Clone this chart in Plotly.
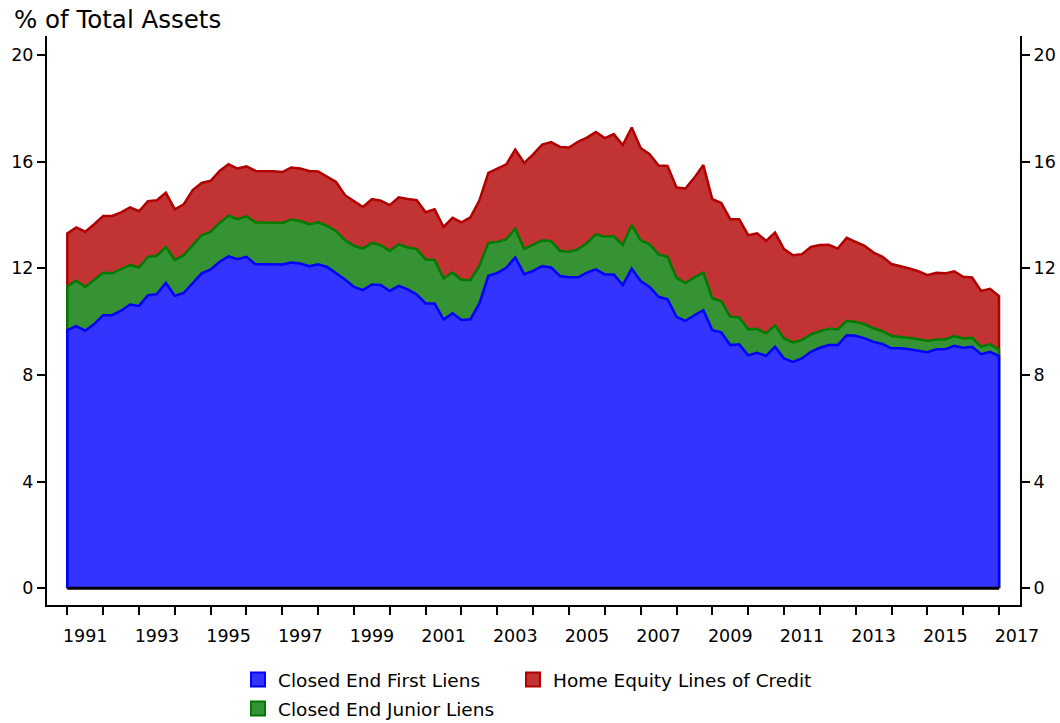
import plotly.graph_objects as go

# Quarterly observations, 1991Q1 .. 2017Q1
quarters = [f"{1991 + i // 4}Q{i % 4 + 1}" for i in range(105)]

first_liens = [
    9.68, 9.83, 9.66, 9.91, 10.24, 10.24, 10.41, 10.64, 10.59, 10.99, 11.03, 11.45, 10.97, 11.08, 11.43, 11.81,
    11.96, 12.24, 12.45, 12.34, 12.43, 12.15, 12.15, 12.14, 12.14, 12.22, 12.18, 12.08, 12.15, 12.05, 11.81, 11.58,
    11.30, 11.18, 11.39, 11.37, 11.15, 11.34, 11.21, 11.02, 10.68, 10.68, 10.08, 10.31, 10.06, 10.09, 10.68, 11.72,
    11.83, 12.02, 12.41, 11.78, 11.90, 12.08, 12.03, 11.71, 11.66, 11.66, 11.84, 11.96, 11.77, 11.77, 11.37, 11.99,
    11.52, 11.30, 10.93, 10.84, 10.18, 10.03, 10.24, 10.43, 9.68, 9.60, 9.12, 9.15, 8.74, 8.83, 8.72, 9.06,
    8.62, 8.49, 8.62, 8.87, 9.02, 9.12, 9.12, 9.49, 9.47, 9.37, 9.24, 9.16, 9.00, 9.00, 8.96, 8.91,
    8.85, 8.96, 8.96, 9.09, 9.02, 9.06, 8.78, 8.87, 8.71,
]
junior_liens = [
    1.65, 1.70, 1.64, 1.65, 1.59, 1.57, 1.55, 1.48, 1.44, 1.44, 1.44, 1.35, 1.34, 1.41, 1.44, 1.43,
    1.41, 1.46, 1.52, 1.50, 1.52, 1.57, 1.57, 1.56, 1.56, 1.61, 1.59, 1.57, 1.57, 1.54, 1.58, 1.47,
    1.54, 1.56, 1.56, 1.50, 1.50, 1.56, 1.57, 1.70, 1.65, 1.63, 1.54, 1.53, 1.50, 1.47, 1.41, 1.23,
    1.16, 1.06, 1.08, 0.94, 0.97, 0.97, 0.99, 0.94, 0.96, 1.05, 1.11, 1.31, 1.41, 1.43, 1.50, 1.63,
    1.53, 1.60, 1.59, 1.59, 1.46, 1.42, 1.42, 1.41, 1.19, 1.17, 1.06, 1.01, 0.97, 0.90, 0.84, 0.80,
    0.75, 0.73, 0.69, 0.65, 0.62, 0.61, 0.59, 0.54, 0.52, 0.53, 0.51, 0.48, 0.46, 0.43, 0.43, 0.43,
    0.42, 0.37, 0.37, 0.37, 0.35, 0.33, 0.28, 0.28, 0.25,
]
heloc = [
    1.98, 2.00, 2.07, 2.09, 2.13, 2.15, 2.14, 2.16, 2.11, 2.09, 2.08, 2.03, 1.90, 1.91, 2.06, 1.96,
    1.91, 1.95, 1.93, 1.90, 1.87, 1.93, 1.93, 1.94, 1.91, 1.95, 1.97, 2.00, 1.91, 1.84, 1.85, 1.69,
    1.68, 1.56, 1.64, 1.66, 1.72, 1.76, 1.82, 1.83, 1.77, 1.90, 1.93, 2.05, 2.16, 2.35, 2.46, 2.63,
    2.75, 2.82, 2.96, 3.23, 3.40, 3.59, 3.71, 3.90, 3.91, 4.03, 3.95, 3.84, 3.70, 3.83, 3.75, 3.66,
    3.46, 3.38, 3.33, 3.41, 3.39, 3.54, 3.74, 4.03, 3.72, 3.68, 3.66, 3.68, 3.53, 3.58, 3.47, 3.48,
    3.35, 3.27, 3.22, 3.28, 3.23, 3.15, 3.03, 3.11, 3.00, 2.94, 2.84, 2.79, 2.70, 2.65, 2.60, 2.55,
    2.47, 2.50, 2.48, 2.43, 2.31, 2.27, 2.09, 2.08, 2.00,
]

series_names = ["Closed End First Liens", "Closed End Junior Liens", "Home Equity Lines of Credit"]
fill_colors = ["#3434FF", "#359335", "#C23333"]
line_colors = ["#0000FF", "#007A00", "#B20000"]

year_labels = [str(y) for y in range(1991, 2018, 2)]
y_ticks = [0, 4, 8, 12, 16, 20]

FONT = "DejaVu Sans"

x = [int(q[:4]) + (int(q[-1]) - 1) / 4 for q in quarters]

# cumulative stack tops
top1 = list(first_liens)
top2 = [a + b for a, b in zip(top1, junior_liens)]
top3 = [a + b for a, b in zip(top2, heloc)]
tops = [top1, top2, top3]

fig = go.Figure()

# draw top layer first, each polygon from zero so edges look like the original
for idx in [2, 1, 0]:
    xs = [x[0]] + x + [x[-1]]
    ys = [0] + tops[idx] + [0]
    fig.add_trace(go.Scatter(
        x=xs, y=ys, mode="lines", fill="toself",
        fillcolor=fill_colors[idx],
        line=dict(color=line_colors[idx], width=2.5),
        showlegend=False, hoverinfo="skip",
    ))

# zero baseline
fig.add_trace(go.Scatter(
    x=x, y=[0] * len(x), mode="lines", line=dict(color="black", width=3),
    showlegend=False, hoverinfo="skip", yaxis="y2",
))

# legend entries (square swatches)
legend_ids = ["legend", "legend3", "legend2"]
for idx in range(3):
    fig.add_trace(go.Scatter(
        x=[None], y=[None], mode="markers", name=series_names[idx],
        marker=dict(symbol="square", size=14, color=fill_colors[idx],
                    line=dict(color=line_colors[idx], width=2)),
        legend=legend_ids[idx],
    ))

W, H = 1060, 723
ml, mr, mt, mb = 47, 40, 36, 118
yr = [-0.626, 20.71]
xr = [1990.433, 2017.586]

axis_font = dict(family=FONT, size=17.5, color="black")
yax = dict(
    range=yr, tickmode="array", tickvals=y_ticks, ticktext=[str(v) for v in y_ticks],
    ticks="outside", ticklen=8, tickwidth=1.5, tickcolor="black",
    showline=True, linecolor="black", linewidth=2, automargin=False,
    showgrid=False, zeroline=False, tickfont=axis_font,
)

leg_common = dict(
    orientation="h", xref="container", yref="container", xanchor="left", yanchor="middle",
    font=dict(family=FONT, size=18.5, color="black"), bgcolor="rgba(0,0,0,0)", borderwidth=0,
)

fig.update_layout(
    width=W, height=H,
    margin=dict(l=ml, r=mr, t=mt, b=mb, pad=0, autoexpand=False),
    paper_bgcolor="white", plot_bgcolor="white",
    font=dict(family=FONT, color="black"),
    title=dict(text="% of Total Assets", xref="container", yref="container",
               x=14 / W, xanchor="left", y=1 - 19 / H, yanchor="middle",
               font=dict(family=FONT, size=24.5, color="black")),
    xaxis=dict(
        range=xr, tickmode="array",
        tickvals=[int(l) + 0.5 for l in year_labels], ticktext=year_labels,
        ticks="outside", ticklen=14, tickcolor="rgba(0,0,0,0)",
        minor=dict(tickmode="array", tickvals=list(range(1991, 2018)),
                   ticks="outside", ticklen=8, tickwidth=1.5, tickcolor="black", showgrid=False),
        showline=True, linecolor="black", linewidth=2, automargin=False,
        showgrid=False, zeroline=False, tickfont=axis_font,
    ),
    yaxis=yax,
    yaxis2=dict(yax, overlaying="y", side="right"),
    legend=dict(leg_common, x=238 / W, y=1 - 680 / H),
    legend2=dict(leg_common, x=513 / W, y=1 - 680 / H),
    legend3=dict(leg_common, x=238 / W, y=1 - 709 / H),
    showlegend=True,
)

# remove the default page margin so the 1060x723 figure fills the window exactly
fig.write_html(
    "out.html",
    config={"displayModeBar": False},
    post_script="document.body.style.margin='0px';document.body.style.overflow='hidden';",
)
